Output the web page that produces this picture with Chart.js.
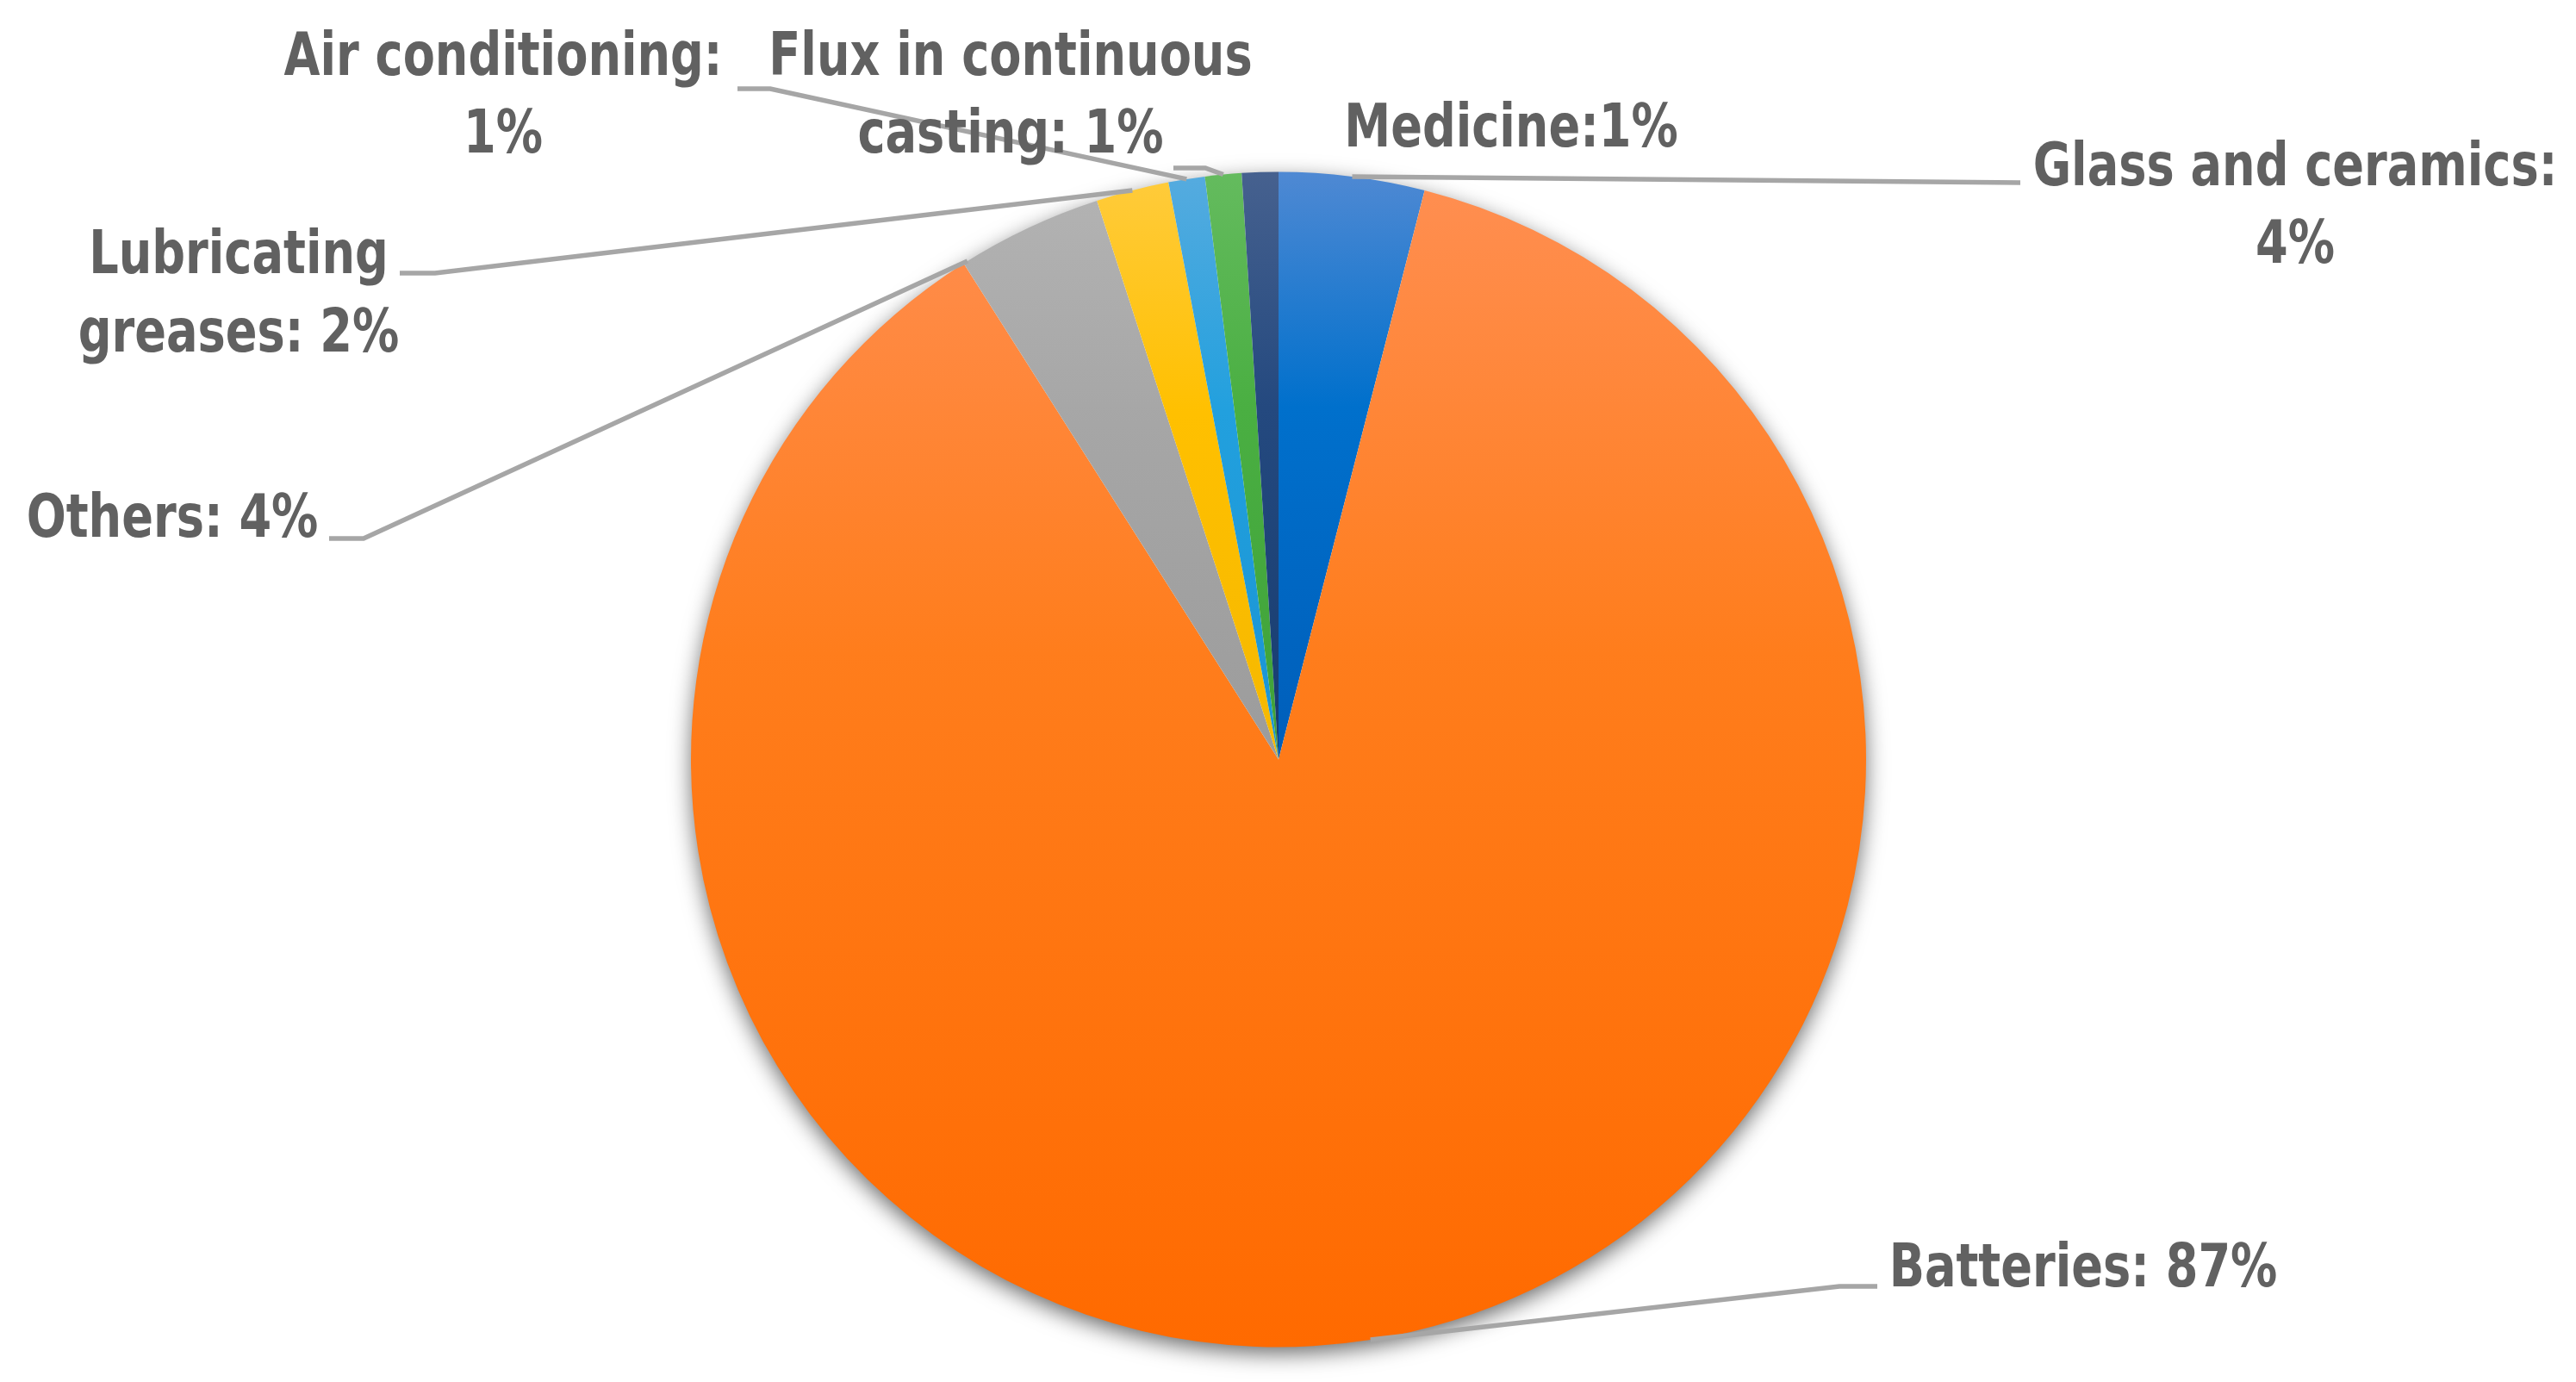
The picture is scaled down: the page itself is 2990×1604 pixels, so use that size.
<!DOCTYPE html>
<html>
<head>
<meta charset="utf-8">
<script src="https://cdn.jsdelivr.net/npm/chart.js@4.4.1/dist/chart.umd.min.js"></script>
<style>
  html, body { margin: 0; padding: 0; background: #ffffff; }
  #wrap { width: 2990px; height: 1604px; }
</style>
</head>
<body>
<div id="wrap"><canvas id="myChart" width="2990" height="1604"></canvas></div>
<script>
// data, clockwise from 12 o'clock
var categories = ['Glass and ceramics', 'Batteries', 'Others', 'Lubricating greases', 'Air conditioning', 'Flux in continuous casting', 'Medicine'];
var shares = [4, 87, 4, 2, 1, 1, 1];
// text of each data label, as printed (line by line)
var labelLines = [
	['Glass and ceramics:', '4%'],
	['Batteries: 87%'],
	['Others: 4%'],
	['Lubricating', 'greases: 2%'],
	['Air conditioning:', '1%'],
	['Flux in continuous', 'casting: 1%'],
	['Medicine:1%']
];

// slice colours: light top, base, darker bottom (vertical gradient over each slice)
var sliceColors = [
	['#4f89d3', '#0070cc', '#005eba'],
	['#ff8e50', '#ff7d1c', '#ff6a00'],
	['#b2b2b2', '#a6a6a6', '#9c9c9c'],
	['#ffcb3a', '#ffc000', '#f5b800'],
	['#55abdf', '#22a0de', '#1a94d4'],
	['#64bb5e', '#4aaf42', '#3fa139'],
	['#46618f', '#24497f', '#173d70']
];

// where the labels sit (baseline of each line, centred on cx) and where the leader starts
var labelPos = [
	{ cx: 2664, ys: [215, 305], lead: [[2345, 212]], anchor: 0.5 },
	{ cx: 2418, ys: [1493], lead: [[2179, 1493], [2135, 1493]], anchor: 0.5 },
	{ cx: 200, ys: [623], lead: [[382, 625], [422, 625]], anchor: 0.03 },
	{ cx: 277, ys: [317, 408], lead: [[464, 317], [505, 317]], anchor: 0.5 },
	{ cx: 584, ys: [87, 177], lead: [[856, 103], [894, 103]], anchor: 0.5 },
	{ cx: 1173, ys: [87, 177], lead: [[1362, 195], [1399, 195]], anchor: 0.5 },
	{ cx: 1754, ys: [170], lead: null, anchor: 0.5 }
];

var labelFont = 'bold 70px "Liberation Sans Narrow", "DejaVu Sans Condensed", "Arial Narrow", sans-serif';
var labelSquash = 0.86; // narrow the wide fallback font a bit, the original face is condensed
var textColor = '#616161';
var leaderColor = '#a6a6a6';

function sliceGradient(context) {
	var chart = context.chart;
	var area = chart.chartArea;
	if (!area) return sliceColors[context.dataIndex][1];
	var cx = (area.left + area.right) / 2;
	var cy = (area.top + area.bottom) / 2;
	var r = Math.min(area.right - area.left, area.bottom - area.top) / 2;
	var total = 0, before = 0;
	for (var i = 0; i < shares.length; i++) {
		total += shares[i];
		if (i < context.dataIndex) before += shares[i];
	}
	var a0 = -Math.PI / 2 + before / total * Math.PI * 2;
	var a1 = a0 + shares[context.dataIndex] / total * Math.PI * 2;
	var ys = [cy, cy + r * Math.sin(a0), cy + r * Math.sin(a1)];
	[-Math.PI / 2, Math.PI / 2, Math.PI * 1.5].forEach(function (a) {
		if (a >= a0 && a <= a1) ys.push(cy + r * Math.sin(a));
	});
	var y0 = Math.min.apply(null, ys), y1 = Math.max.apply(null, ys);
	var c = sliceColors[context.dataIndex];
	var g = chart.ctx.createLinearGradient(0, y0, 0, y1);
	g.addColorStop(0, c[0]);
	g.addColorStop(0.4, c[1]);
	g.addColorStop(1, c[2]);
	return g;
}

// soft shadow under the whole pie
var pieShadow = {
	id: 'pieShadow',
	beforeDatasetsDraw: function (chart) {
		var arc = chart.getDatasetMeta(0).data[0];
		if (!arc) return;
		var ctx = chart.ctx;
		ctx.save();
		ctx.shadowColor = 'rgba(0,0,0,0.6)';
		ctx.shadowBlur = 26;
		ctx.shadowOffsetY = 8;
		ctx.fillStyle = '#ffffff';
		ctx.beginPath();
		ctx.arc(arc.x, arc.y, arc.outerRadius - 1, 0, Math.PI * 2);
		ctx.fill();
		ctx.restore();
	}
};

// data labels with leader lines
var sliceLabels = {
	id: 'sliceLabels',
	afterDatasetsDraw: function (chart) {
		var ctx = chart.ctx;
		var arcs = chart.getDatasetMeta(0).data;
		arcs.forEach(function (arc, i) {
			var p = labelPos[i];
			if (p.lead) {
				var a = arc.startAngle + (arc.endAngle - arc.startAngle) * p.anchor;
				var ex = arc.x + Math.cos(a) * arc.outerRadius;
				var ey = arc.y + Math.sin(a) * arc.outerRadius;
				ctx.save();
				ctx.strokeStyle = leaderColor;
				ctx.lineWidth = 5.5;
				ctx.lineJoin = 'miter';
				ctx.beginPath();
				ctx.moveTo(p.lead[0][0], p.lead[0][1]);
				for (var k = 1; k < p.lead.length; k++) ctx.lineTo(p.lead[k][0], p.lead[k][1]);
				ctx.lineTo(ex, ey);
				ctx.stroke();
				ctx.restore();
			}
			labelLines[i].forEach(function (line, j) {
				ctx.save();
				ctx.translate(p.cx, p.ys[j]);
				ctx.scale(labelSquash, 1);
				ctx.fillStyle = textColor;
				ctx.font = labelFont;
				ctx.textAlign = 'center';
				ctx.textBaseline = 'alphabetic';
				ctx.fillText(line, 0, 0);
				ctx.restore();
			});
		});
	}
};

var pieChart = new Chart(document.getElementById('myChart'), {
	type: 'pie',
	data: {
		labels: categories,
		datasets: [{
			data: shares,
			backgroundColor: sliceGradient,
			borderWidth: 0,
			hoverOffset: 0
		}]
	},
	options: {
		responsive: false,
		animation: false,
		events: [],
		layout: {
			padding: { top: 199, bottom: 40, left: 802, right: 824 }
		},
		plugins: {
			legend: { display: false },
			tooltip: { enabled: false }
		}
	},
	plugins: [pieShadow, sliceLabels]
});
</script>
</body>
</html>
